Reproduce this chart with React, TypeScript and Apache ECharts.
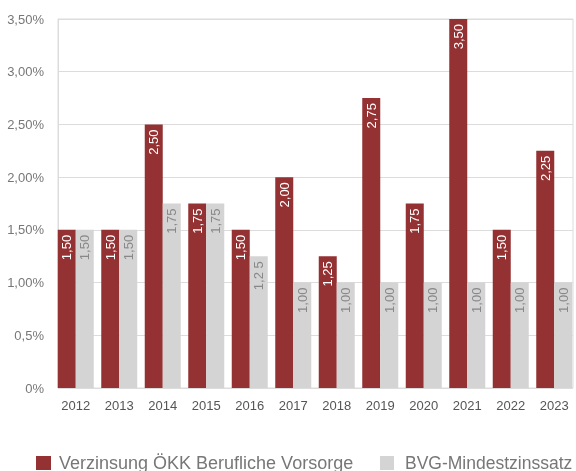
import React, { useEffect, useRef } from "react";
import * as echarts from "echarts";

const years = ["2012", "2013", "2014", "2015", "2016", "2017", "2018", "2019", "2020", "2021", "2022", "2023"];
const okkValues = [1.5, 1.5, 2.5, 1.75, 1.5, 2.0, 1.25, 2.75, 1.75, 3.5, 1.5, 2.25];
const bvgValues = [1.5, 1.5, 1.75, 1.75, 1.25, 1.0, 1.0, 1.0, 1.0, 1.0, 1.0, 1.0];
const okkLabels = ["1,50", "1,50", "2,50", "1,75", "1,50", "2,00", "1,25", "2,75", "1,75", "3,50", "1,50", "2,25"];
const bvgLabels = ["1,50", "1,50", "1,75", "1,75", "1,2 5", "1,00", "1,00", "1,00", "1,00", "1,00", "1,00", "1,00"];
const yTickLabels: Record<string, string> = {
  "0": "0%",
  "0.5": "0,5%",
  "1": "1,00%",
  "1.5": "1,50%",
  "2": "2,00%",
  "2.5": "2,50%",
  "3": "3,00%",
  "3.5": "3,50%",
};
const seriesNames = ["Verzinsung ÖKK Berufliche Vorsorge", "BVG-Mindestzinssatz"];

const RED = "#943233";
const GRAY = "#d4d4d4";
const FONT = "'Liberation Sans', Arial, sans-serif";

export default function App() {
  const ref = useRef<HTMLDivElement>(null);
  useEffect(() => {
    if (!ref.current) return;
    const chart = echarts.init(ref.current, null, { renderer: "svg" });
    const barLabel = (labels: string[], color: string) => ({
      show: true,
      position: "insideTop",
      rotate: 90,
      align: "right",
      verticalAlign: "middle",
      distance: 5,
      color,
      fontSize: 13,
      fontFamily: FONT,
      formatter: (p: any) => labels[p.dataIndex],
    });
    chart.setOption({
      animation: false,
      textStyle: { fontFamily: FONT },
      grid: [
        { left: 54, right: -1, top: 19, bottom: 83, containLabel: false },
        { left: 58, right: 3, top: 19, bottom: 83, containLabel: false, show: true, borderColor: "#dcdcdc", borderWidth: 1, backgroundColor: "transparent" },
      ],
      xAxis: [
        {
          type: "category",
          gridIndex: 0,
          data: years,
          axisLine: { show: false },
          axisTick: { show: false },
          axisLabel: { color: "#555", fontSize: 13, margin: 11, fontFamily: FONT },
        },
        { type: "category", gridIndex: 1, data: years, show: false },
      ],
      yAxis: [
        { type: "value", gridIndex: 0, min: 0, max: 3.5, interval: 0.5, show: false, splitLine: { show: false } },
        {
          type: "value",
          gridIndex: 1,
          min: 0,
          max: 3.5,
          interval: 0.5,
          axisLine: { show: true, lineStyle: { color: "#dcdcdc" } },
          axisTick: { show: false },
          splitLine: { show: true, lineStyle: { color: "#dcdcdc", width: 1 } },
          axisLabel: {
            color: "#777",
            fontSize: 13,
            margin: 14,
            fontFamily: FONT,
            formatter: (v: number) => yTickLabels[String(v)] ?? "",
          },
        },
      ],
      legend: [
        {
          left: 36,
          top: 454,
          padding: 0,
          itemWidth: 15,
          itemHeight: 14,
          icon: "rect",
          textStyle: { color: "#777", fontSize: 18, fontFamily: FONT, padding: [0, 0, 0, 3] },
          data: [seriesNames[0]],
        },
        {
          left: 380,
          top: 454,
          padding: 0,
          itemWidth: 14,
          itemHeight: 14,
          icon: "rect",
          textStyle: { color: "#777", fontSize: 17.5, fontFamily: FONT, padding: [0, 0, 0, 6] },
          data: [seriesNames[1]],
        },
      ],
      series: [
        {
          name: seriesNames[0],
          type: "bar",
          xAxisIndex: 0,
          yAxisIndex: 0,
          barWidth: 18,
          barGap: "0%",
          itemStyle: { color: RED },
          data: okkValues,
          label: barLabel(okkLabels, "#fff"),
        },
        {
          name: seriesNames[1],
          type: "bar",
          xAxisIndex: 0,
          yAxisIndex: 0,
          barWidth: 18,
          barGap: "0%",
          itemStyle: { color: GRAY },
          data: bvgValues,
          label: barLabel(bvgLabels, "#888"),
        },
      ],
    });
    return () => chart.dispose();
  }, []);
  return <div ref={ref} style={{ position: "fixed", left: 0, top: 0, width: 576, height: 471 }} />;
}
